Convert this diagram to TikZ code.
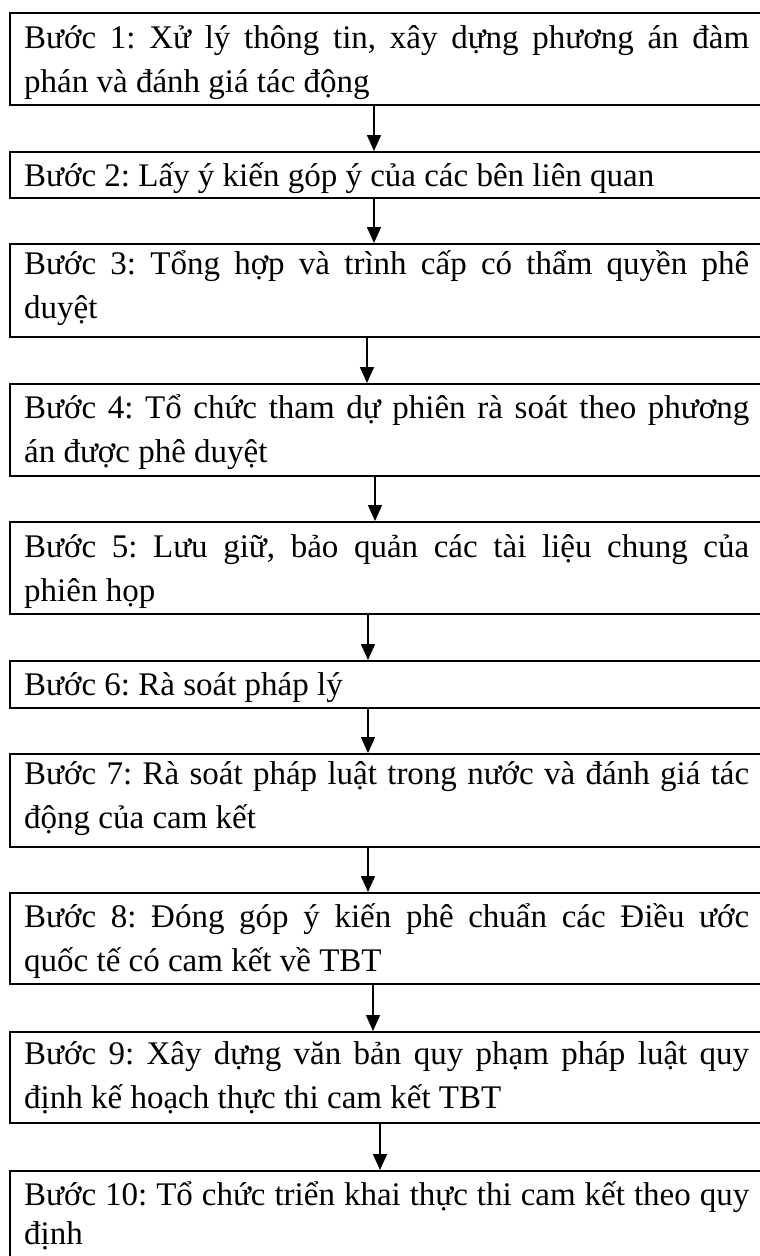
\documentclass[tikz,border=0pt]{standalone}
\usepackage{fontspec}
\setmainfont{Liberation Serif}
\usetikzlibrary{arrows.meta}
\newcommand{\stepfont}{\fontsize{33}{44}\selectfont\frenchspacing}
\newcommand{\laststepfont}{\fontsize{33}{39}\selectfont\frenchspacing}
\newcommand{\fullline}[1]{\makebox[725pt][s]{#1}}
\begin{document}
\begin{tikzpicture}[x=1pt,y=-1pt,
  stepbox/.style={draw, line width=1.8pt, rectangle, inner sep=0pt, anchor=north west, minimum width=790pt},
  steptext/.style={anchor=base west, inner sep=0pt},
  flow/.style={-{Triangle[length=16pt,width=14pt]}, line width=1.6pt}]
\useasboundingbox (0,0) rectangle (760,1256);
% boxes
\node[stepbox, minimum height=92pt] (b1) at (9,12) {};
\node[stepbox, minimum height=46pt] (b2) at (9,151) {};
\node[stepbox, minimum height=93pt] (b3) at (9,243) {};
\node[stepbox, minimum height=92pt] (b4) at (9,383) {};
\node[stepbox, minimum height=92pt] (b5) at (9,521) {};
\node[stepbox, minimum height=47pt] (b6) at (9,660) {};
\node[stepbox, minimum height=93pt] (b7) at (9,753) {};
\node[stepbox, minimum height=91pt] (b8) at (9,892) {};
\node[stepbox, minimum height=91pt] (b9) at (9,1031) {};
\node[stepbox, minimum height=130pt] (b10) at (9,1170) {};
% texts
\node[steptext] (t1) at (24,48) {\parbox[t]{725pt}{\stepfont\fullline{Bước 1: Xử lý thông tin, xây dựng phương án đàm}\\phán và đánh giá tác động}};
\node[steptext] (t2) at (24,186) {\parbox[t]{725pt}{\stepfont Bước 2: Lấy ý kiến góp ý của các bên liên quan}};
\node[steptext] (t3) at (24,274) {\parbox[t]{725pt}{\stepfont\fullline{Bước 3: Tổng hợp và trình cấp có thẩm quyền phê}\\duyệt}};
\node[steptext] (t4) at (24,418) {\parbox[t]{725pt}{\stepfont\fullline{Bước 4: Tổ chức tham dự phiên rà soát theo phương}\\án được phê duyệt}};
\node[steptext] (t5) at (24,557) {\parbox[t]{725pt}{\stepfont\fullline{Bước 5: Lưu giữ, bảo quản các tài liệu chung của}\\phiên họp}};
\node[steptext] (t6) at (24,695) {\parbox[t]{725pt}{\stepfont Bước 6: Rà soát pháp lý}};
\node[steptext] (t7) at (24,784) {\parbox[t]{725pt}{\stepfont\fullline{Bước 7: Rà soát pháp luật trong nước và đánh giá tác}\\động của cam kết}};
\node[steptext] (t8) at (24,927) {\parbox[t]{725pt}{\stepfont\fullline{Bước 8: Đóng góp ý kiến phê chuẩn các Điều ước}\\quốc tế có cam kết về TBT}};
\node[steptext] (t9) at (24,1064) {\parbox[t]{725pt}{\stepfont\fullline{Bước 9: Xây dựng văn bản quy phạm pháp luật quy}\\định kế hoạch thực thi cam kết TBT}};
\node[steptext] (t10) at (24,1205) {\parbox[t]{725pt}{\laststepfont\fullline{Bước 10: Tổ chức triển khai thực thi cam kết theo quy}\\định}};
% arrows
\draw[flow] ([xshift=365pt]b1.south west) -- ([xshift=365pt]b2.north west);
\draw[flow] ([xshift=365pt]b2.south west) -- ([xshift=365pt]b3.north west);
\draw[flow] ([xshift=358pt]b3.south west) -- ([xshift=358pt]b4.north west);
\draw[flow] ([xshift=366pt]b4.south west) -- ([xshift=366pt]b5.north west);
\draw[flow] ([xshift=359pt]b5.south west) -- ([xshift=359pt]b6.north west);
\draw[flow] ([xshift=359pt]b6.south west) -- ([xshift=359pt]b7.north west);
\draw[flow] ([xshift=359pt]b7.south west) -- ([xshift=359pt]b8.north west);
\draw[flow] ([xshift=364pt]b8.south west) -- ([xshift=364pt]b9.north west);
\draw[flow] ([xshift=371pt]b9.south west) -- ([xshift=371pt]b10.north west);
\end{tikzpicture}
\end{document}
